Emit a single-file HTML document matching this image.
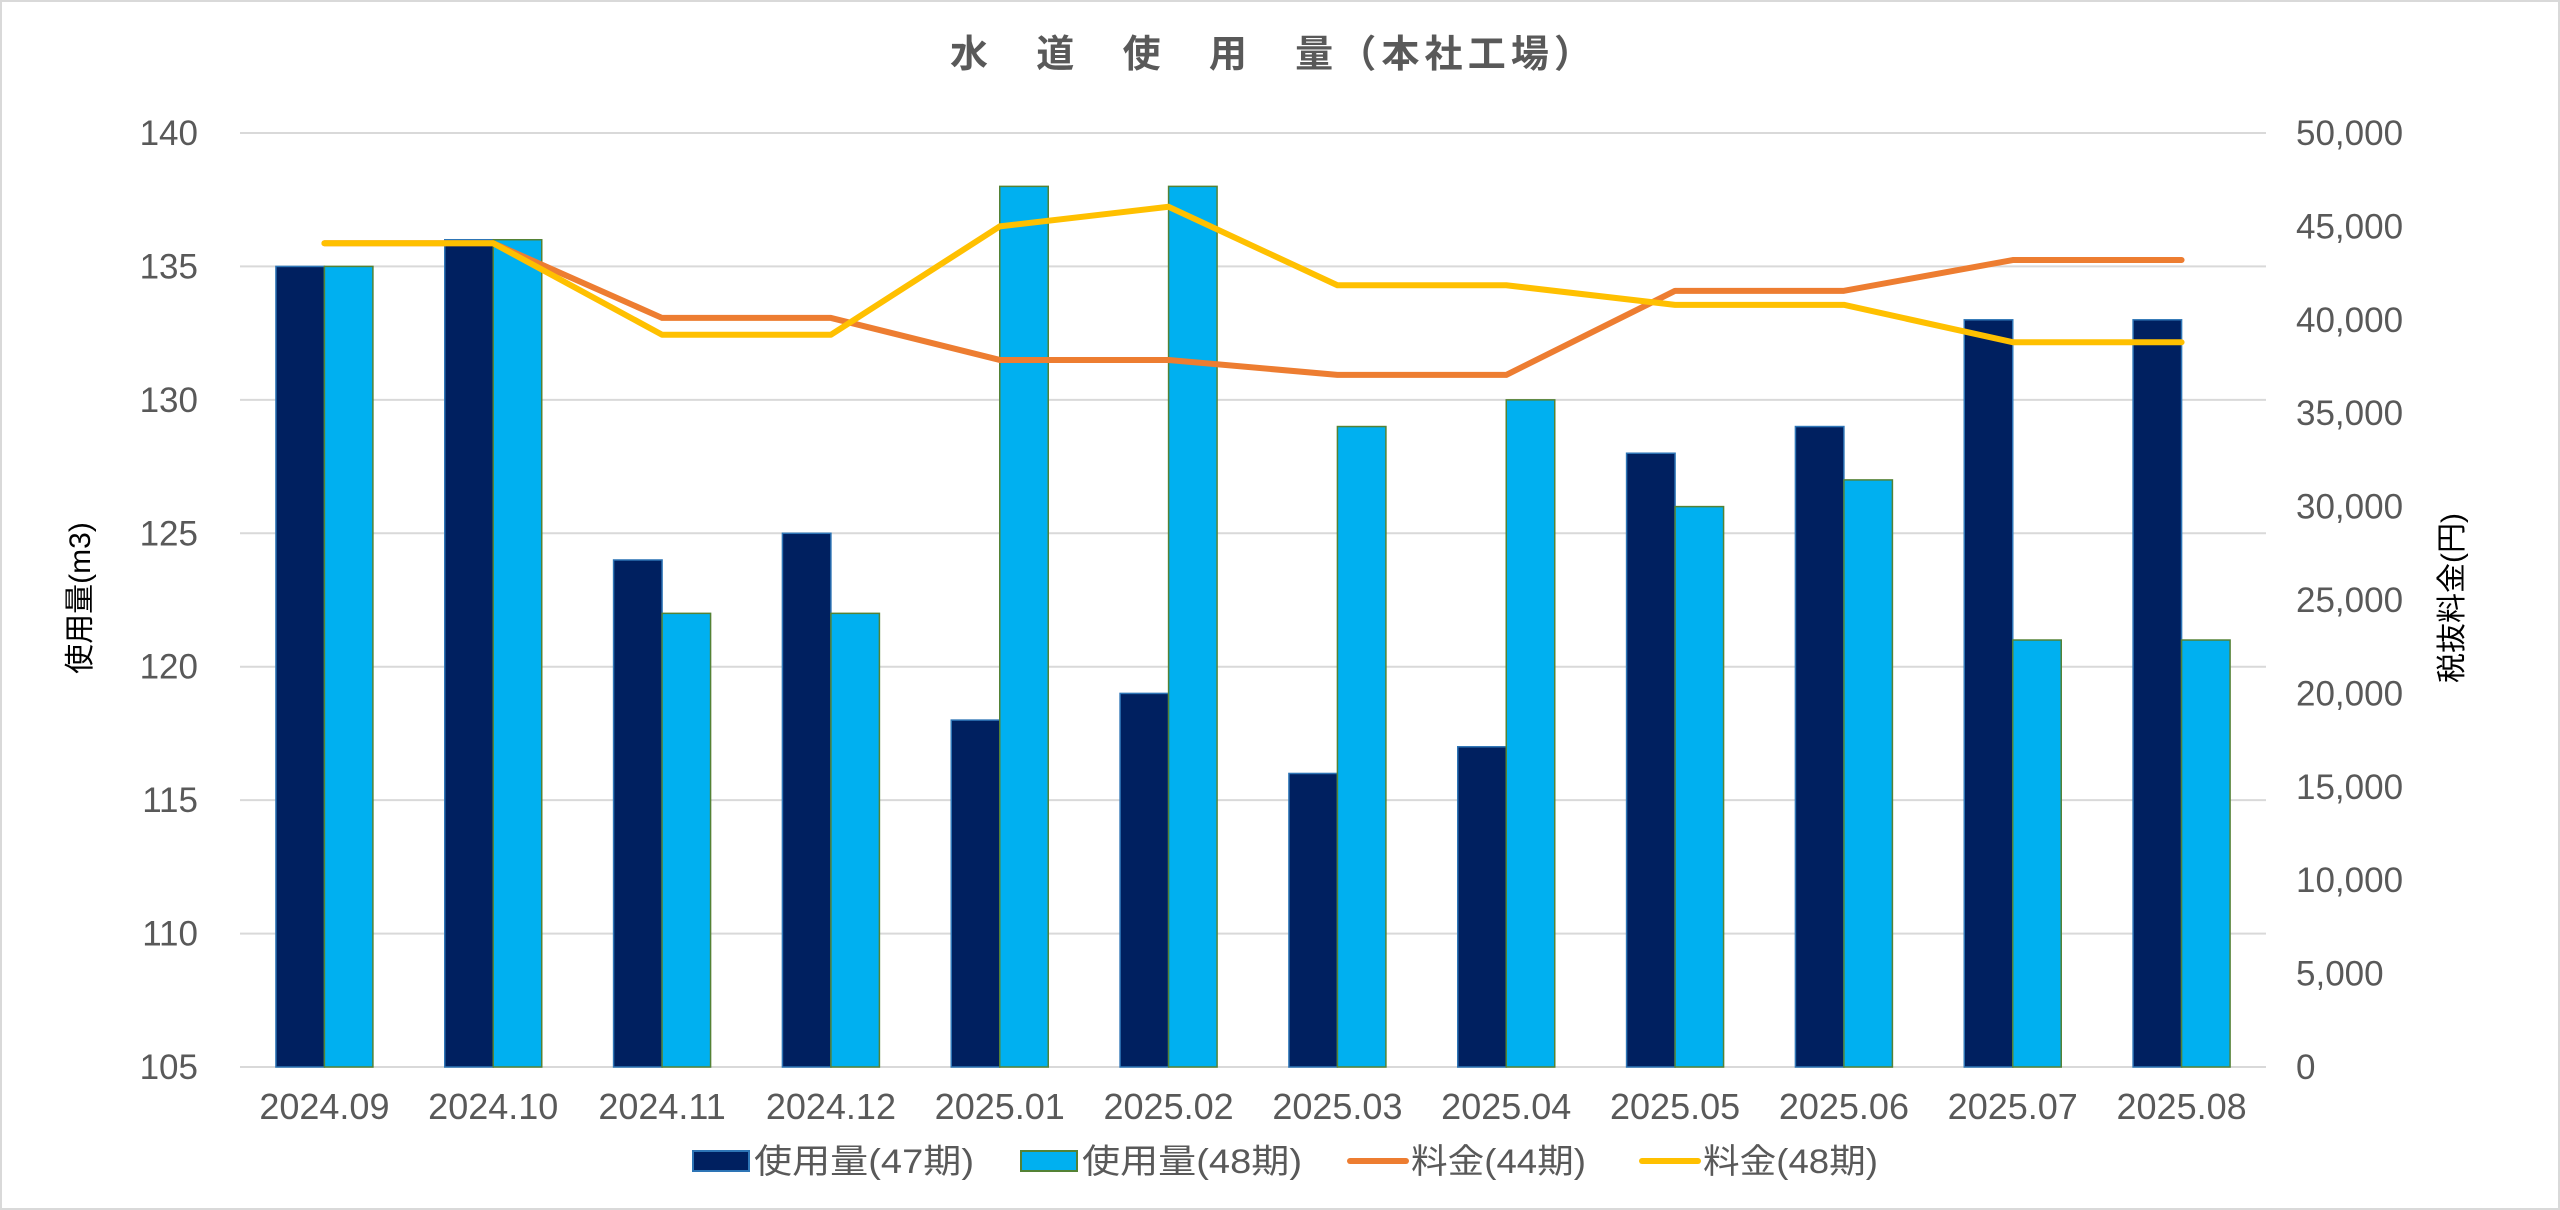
<!DOCTYPE html>
<html><head><meta charset="utf-8"><style>
html,body{margin:0;padding:0;background:#fff;}
svg{display:block;}
text{font-family:"Liberation Sans","Noto Sans CJK JP",sans-serif;fill:#595959;}
</style></head><body>
<svg id="chart" width="2560" height="1210" viewBox="0 0 2560 1210">
<rect x="1" y="1" width="2558" height="1208" fill="#fff" stroke="#d9d9d9" stroke-width="2"/>
<text x="950" y="67" textLength="642" lengthAdjust="spacing" font-size="38" font-weight="bold" style="fill:#595959" xml:space="preserve">水　道　使　用　量（本社工場）</text>
<g id="grid"></g><g id="bars"></g><g id="lines"></g><g id="axes"></g>
<text transform="translate(90,598) rotate(-90)" text-anchor="middle" font-size="30" style="fill:#000">使用量(m3)</text>
<text transform="translate(2462,598) rotate(-90)" text-anchor="middle" font-size="30" style="fill:#000">税抜料金(円)</text>
<g>
<rect x="693" y="1151" width="56" height="20" fill="#002060" stroke="#2e75b6" stroke-width="2"/>
<text x="754" y="1173" font-size="34" textLength="220" lengthAdjust="spacingAndGlyphs">使用量(47期)</text>
<rect x="1021" y="1151" width="56" height="20" fill="#00b0f0" stroke="#548235" stroke-width="2"/>
<text x="1082" y="1173" font-size="34" textLength="220" lengthAdjust="spacingAndGlyphs">使用量(48期)</text>
<line x1="1350" y1="1161" x2="1406" y2="1161" stroke="#ed7d31" stroke-width="6" stroke-linecap="round"/>
<text x="1411" y="1173" font-size="34" textLength="175" lengthAdjust="spacingAndGlyphs">料金(44期)</text>
<line x1="1642" y1="1161" x2="1698" y2="1161" stroke="#ffc000" stroke-width="6" stroke-linecap="round"/>
<text x="1703" y="1173" font-size="34" textLength="175" lengthAdjust="spacingAndGlyphs">料金(48期)</text>
</g>
</svg>
<script>
const categories=["2024.09","2024.10","2024.11","2024.12","2025.01","2025.02","2025.03","2025.04","2025.05","2025.06","2025.07","2025.08"];
const usage47=[135,136,124,125,118,119,116,117,128,129,133,133];
const usage48=[135,136,122,122,138,138,129,130,126,127,121,121];
const fee44=[44100,44100,40100,40100,37850,37850,37050,37050,41550,41550,43200,43200];
const fee48=[44100,44100,39200,39200,45000,46050,41850,41850,40800,40800,38800,38800];
const leftTicks=[105,110,115,120,125,130,135,140];
const rightTicks=[0,5000,10000,15000,20000,25000,30000,35000,40000,45000,50000];

const NS="http://www.w3.org/2000/svg";
const X0=240,X1=2266,YT=133,YB=1067;
const bw=(X1-X0)/categories.length;
const yL=v=>YB-(v-105)/(140-105)*(YB-YT);
const yR=v=>YB-v/50000*(YB-YT);
const xC=i=>X0+bw*(i+0.5);
function mk(tag,attrs,parent){const e=document.createElementNS(NS,tag);for(const k in attrs)e.setAttribute(k,attrs[k]);document.getElementById(parent).appendChild(e);return e;}

leftTicks.forEach(t=>{
  const l=mk('line',{x1:X0,x2:X1,y1:yL(t),y2:yL(t),stroke:'#d9d9d9','stroke-width':2},'grid');
  
  
  const tx=mk('text',{x:198,y:yL(t)+12,'text-anchor':'end','font-size':35},'axes');
  tx.textContent=t;
  
  
});
rightTicks.forEach(t=>{
  const tx=mk('text',{x:2296,y:yR(t)+12,'text-anchor':'start','font-size':35},'axes');
  tx.textContent=t.toLocaleString('en-US');
  
  
});
categories.forEach((c,i)=>{
  const tx=mk('text',{x:xC(i),y:1119,'text-anchor':'middle','font-size':36},'axes');
  tx.textContent=c;
  
  
  const w=48.5;
  const b1=mk('rect',{x:xC(i)-w,y:yL(usage47[i]),width:w,height:YB-yL(usage47[i]),fill:'#002060',stroke:'#2e75b6','stroke-width':1.5},'bars');
  
  
  const b2=mk('rect',{x:xC(i),y:yL(usage48[i]),width:w,height:YB-yL(usage48[i]),fill:'#00b0f0',stroke:'#548235','stroke-width':1.5},'bars');
  
  
});
function line(data,color,name){
  const p=mk('polyline',{points:data.map((v,i)=>xC(i)+','+yR(v)).join(' '),fill:'none',stroke:color,'stroke-width':6,'stroke-linecap':'round','stroke-linejoin':'round'},'lines');
  
  
}
line(fee44,'#ed7d31','line-fee-44');
line(fee48,'#ffc000','line-fee-48');
</script>
</body></html>
